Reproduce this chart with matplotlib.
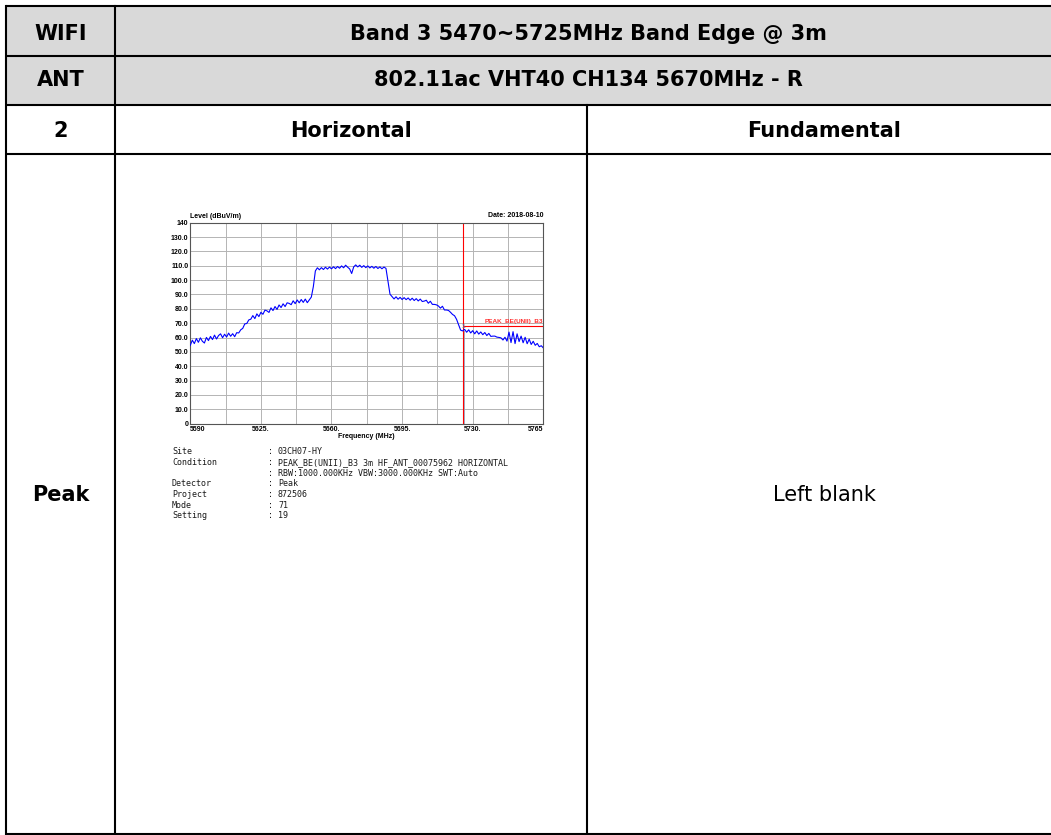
import numpy as np
import matplotlib
matplotlib.use("Agg")
import matplotlib.pyplot as plt

# table texts
row_heads = ["WIFI", "ANT", "2", "Peak"]
title_band = "Band 3 5470~5725MHz Band Edge @ 3m"
title_ant = "802.11ac VHT40 CH134 5670MHz - R"
col_heads = ["Horizontal", "Fundamental"]
blank_text = "Left blank"

# spectrum trace, 1 MHz steps from 5590 to 5765 MHz
freq_start = 5590
freq_stop = 5765
level = [
    54.6, 58.2, 55.8, 59.3, 56.7, 59.8, 57.4, 56.2, 60.1, 57.9,
    60.8, 58.6, 61.7, 59.0, 61.4, 62.6, 59.9, 62.3, 60.4, 63.1,
    60.9, 62.7, 60.6, 63.4, 63.2, 65.4, 66.4, 69.5, 69.8, 72.3,
    72.8, 75.3, 73.2, 76.5, 74.6, 77.6, 76.2, 79.1, 78.6, 77.5,
    80.7, 78.8, 81.6, 79.6, 82.7, 80.9, 83.5, 81.6, 84.2, 83.8,
    82.9, 85.6, 83.6, 86.2, 84.2, 86.5, 84.5, 86.8, 84.3, 86.3,
    88.2, 95.5, 106.4, 108.6, 107.2, 108.7, 107.4, 109.0, 107.7, 109.1,
    107.9, 109.3, 108.0, 109.5, 108.3, 109.9, 108.6, 110.4, 109.0, 107.8,
    104.6, 109.2, 110.6, 109.2, 110.4, 108.9, 110.1, 108.7, 109.9, 108.5,
    109.6, 108.3, 109.5, 108.1, 109.2, 107.9, 109.1, 108.2, 99.0, 90.2,
    88.5, 86.9, 88.4, 86.7, 88.0, 86.5, 87.8, 86.4, 87.6, 86.0,
    87.4, 85.8, 87.1, 85.5, 86.8, 85.1, 85.4, 86.0, 83.9, 85.3,
    83.1, 83.1, 82.8, 82.0, 80.5, 81.8, 79.2, 79.2, 78.9, 77.6,
    76.1, 75.2, 72.7, 69.0, 65.2, 64.6, 65.7, 63.7, 65.4, 63.2,
    64.8, 62.6, 64.6, 62.4, 63.9, 62.0, 63.5, 61.4, 62.9, 60.8,
    61.0, 61.0, 60.3, 60.1, 59.8, 58.3, 60.2, 57.5, 63.8, 56.5,
    64.1, 55.8, 62.6, 57.2, 61.0, 56.4, 60.2, 55.7, 58.9, 55.2,
    57.4, 54.6, 55.9, 53.6, 54.3, 52.8,
]
freqs = np.arange(freq_start, freq_stop + 1)

limit_freq = 5725
limit_level = 68.2
limit_name = "PEAK_BE(UNII)_B3"
marker_freq = 5725.5
marker_level = 64.6

grid_x = [5590, 5607.5, 5625, 5642.5, 5660, 5677.5, 5695, 5712.5, 5730, 5747.5, 5765]
grid_x_labels = ["5590", "", "5625.", "", "5660.", "", "5695.", "", "5730.", "", "5765"]
grid_y = list(range(0, 150, 10))
grid_y_labels = ["0", "10.0", "20.0", "30.0", "40.0", "50.0", "60.0", "70.0",
                 "80.0", "90.0", "100.0", "110.0", "120.0", "130.0", "140"]

info_keys = ["Site", "Condition", "", "Detector", "Project", "Mode", "Setting"]
info_vals = ["03CH07-HY", "PEAK_BE(UNII)_B3 3m HF_ANT_00075962 HORIZONTAL",
             "RBW:1000.000KHz VBW:3000.000KHz SWT:Auto", "Peak", "872506", "71", "19"]

W, H = 1051, 835
fig = plt.figure(figsize=(W / 100, H / 100), dpi=100)

# table drawn in pixel coordinates
tab = fig.add_axes([0, 0, 1, 1])
tab.set_xlim(0, W)
tab.set_ylim(H, 0)
tab.axis("off")

tab.fill_between([6, W], 6, 105, color="#d9d9d9", lw=0)
lw = 1.5
for y in [6, 56, 105, 154, 834]:
    tab.plot([6, W], [y, y], color="black", lw=lw, solid_capstyle="butt")
tab.plot([6, 6], [6, 834], color="black", lw=lw)
tab.plot([115, 115], [6, 834], color="black", lw=lw)
tab.plot([587, 587], [105, 834], color="black", lw=lw)

hfont = dict(family="DejaVu Sans", weight="bold", size=15, ha="center", va="baseline")
for txt, y in zip(row_heads, [40, 85.5, 137, 501]):
    tab.text(60.5, y, txt, **hfont)
tab.text(588, 40, title_band, **hfont)
tab.text(588, 85.5, title_ant, **hfont)
tab.text(351, 137, col_heads[0], **hfont)
tab.text(824, 137, col_heads[1], **hfont)
tab.text(824, 501, blank_text, family="DejaVu Sans", size=15, ha="center", va="baseline")

# info block under the plot
for i, (k, v) in enumerate(zip(info_keys, info_vals)):
    y = 451.7 + i * 10.67
    tab.text(172, y, k, family="DejaVu Sans Mono", size=6, color="#1a1a1a", va="center")
    tab.text(268, y, ":", family="DejaVu Sans Mono", size=6, color="#1a1a1a", va="center")
    tab.text(278, y, v, family="DejaVu Sans Mono", size=6, color="#1a1a1a", va="center")

# spectrum plot
ax = fig.add_axes([190.3 / W, (H - 423.7) / H, 353 / W, 201 / H])
ax.plot(freqs, level, color="#0000ff", lw=0.8, zorder=3)
ax.vlines(marker_freq, 0, marker_level, color="#8aa2c0", lw=1.2, zorder=2)
ax.vlines(limit_freq, 0, 140, color="#ff0000", lw=0.8, zorder=2.5)
ax.hlines(limit_level, limit_freq, freq_stop, color="#ff0000", lw=0.8, zorder=2.5)
ax.text(freq_stop, limit_level + 1.5, limit_name, color="#ff3030", fontsize=4.6,
        fontweight="bold", family="Liberation Sans", ha="right", va="bottom")
ax.text(marker_freq, marker_level + 1.5, "1", color="#5a78a8", fontsize=4.5,
        fontweight="bold", family="Liberation Sans", ha="center", va="bottom")

ax.set_xlim(freq_start, freq_stop)
ax.set_ylim(0, 140)
ax.set_xticks(grid_x)
ax.set_xticklabels(grid_x_labels)
ax.set_yticks(grid_y)
ax.set_yticklabels(grid_y_labels)
ax.tick_params(length=0, pad=1.5, labelsize=5)
for lbl in ax.get_xticklabels() + ax.get_yticklabels():
    lbl.set_family("Liberation Sans")
    lbl.set_fontweight("bold")
xl = ax.get_xticklabels()
xl[0].set_ha("left")
xl[-1].set_ha("right")
ax.grid(color="#b4b4b4", lw=0.7)
ax.set_axisbelow(True)
for s in ax.spines.values():
    s.set_color("#555555")
    s.set_linewidth(0.8)

ax.text(0, 1.012, "Level (dBuV/m)", transform=ax.transAxes, fontsize=5,
        fontweight="bold", family="Liberation Sans", ha="left", va="bottom")
ax.text(1, 1.018, "Date: 2018-08-10", transform=ax.transAxes, fontsize=5,
        fontweight="bold", family="Liberation Sans", ha="right", va="bottom")
ax.text(0.5, -0.066, "Frequency (MHz)", transform=ax.transAxes, fontsize=5,
        fontweight="bold", family="Liberation Sans", ha="center", va="center")

fig.savefig("out.png", dpi=100)
